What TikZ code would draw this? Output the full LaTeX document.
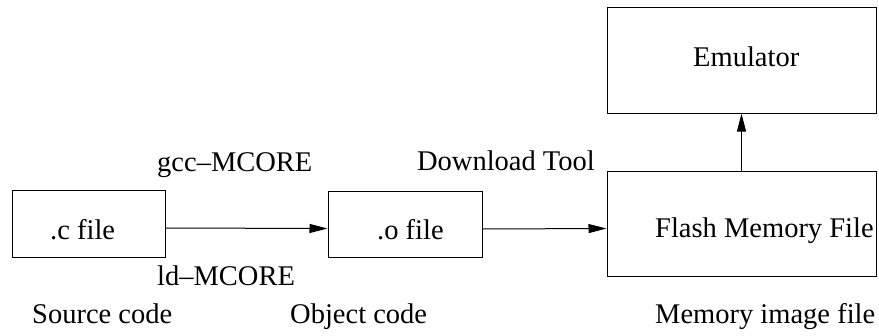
\documentclass[tikz,border=0pt]{standalone}
\usepackage{fontspec}
\setmainfont{Liberation Serif}
\usetikzlibrary{arrows.meta}
\begin{document}
\begin{tikzpicture}[x=1pt,y=-1pt,
  font=\fontsize{28.5}{34}\selectfont,
  box/.style={draw,line width=1pt,inner sep=0pt,minimum width=#1},
  lbl/.style={inner sep=0pt,anchor=base west},
  arr/.style={line width=1pt,-{Triangle[length=18pt,width=9pt]}}]
\useasboundingbox (0,0) rectangle (879,335);

% boxes
\node[box=153pt,minimum height=67pt] (c) at (88.5,223.5) {};
\node[box=154pt,minimum height=66pt] (o) at (405,224) {};
\node[box=269pt,minimum height=105pt] (flash) at (741.5,223.5) {};
\node[box=269pt,minimum height=106pt] (emu) at (741.5,60) {};

% box contents
\node[lbl] (ctxt) at (50,239) {.c file};
\node[lbl] (otxt) at (377,239) {.o file};
\node[lbl] (flashtxt) at (655,237) {Flash Memory File};
\node[lbl] (emutxt) at (693,66.5) {Emulator};

% connectors
\draw[arr] ([yshift=-4.5pt]c.east) -- ([yshift=-4.5pt]o.west);
\draw[arr] ([yshift=-5pt]o.east) -- ([yshift=-5pt]flash.west);
\draw[arr] (flash.north) -- (emu.south);

% tool and stage labels
\node[lbl] (gcc) at (157,171.5) {gcc–MCORE};
\node[lbl] (ld) at (157,285) {ld–MCORE};
\node[lbl,anchor=base east] (dl) at (595,170) {Download Tool};
\node[lbl] (src) at (32,323) {Source code};
\node[lbl] (obj) at (290,323) {Object code};
\node[lbl] (mem) at (655,323) {Memory image file};
\end{tikzpicture}
\end{document}
